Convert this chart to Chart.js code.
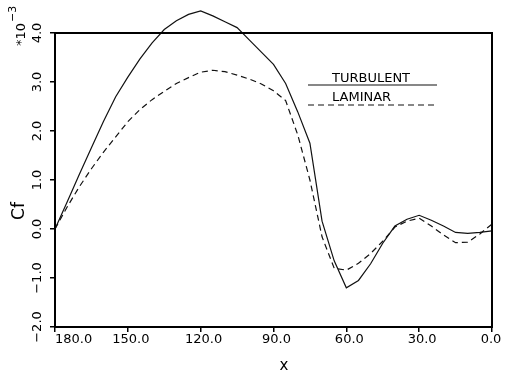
<!DOCTYPE html>
<html>
<head>
<meta charset="utf-8">
<script src="https://cdn.jsdelivr.net/npm/chart.js@4/dist/chart.umd.min.js"></script>
<style>
  html, body { margin: 0; padding: 0; background: #fff; }
  #wrap { width: 507px; height: 372px; position: relative; }
</style>
</head>
<body>
<div id="wrap"><canvas id="c"></canvas></div>
<script>
// ---- data ----
const xValues = [180,175,170,165,160,155,150,145,140,135,130,125,120,115,110,105,100,95,90,85,80,75,70,65,60,55,50,45,40,35,30,25,20,15,10,5,0];
const turbulent = [0.0,0.55,1.11,1.66,2.2,2.7,3.1,3.47,3.8,4.07,4.25,4.38,4.45,4.35,4.23,4.11,3.86,3.61,3.36,2.97,2.39,1.75,0.16,-0.65,-1.2,-1.05,-0.71,-0.29,0.06,0.2,0.28,0.18,0.06,-0.07,-0.09,-0.07,-0.04];
const laminar = [0.0,0.45,0.86,1.23,1.57,1.88,2.19,2.44,2.64,2.81,2.97,3.09,3.2,3.24,3.21,3.14,3.06,2.96,2.82,2.62,1.92,1.0,-0.16,-0.8,-0.84,-0.7,-0.5,-0.25,0.04,0.16,0.22,0.06,-0.12,-0.28,-0.27,-0.1,0.1];
const xTicks = [180,150,120,90,60,30,0];
const yTicks = [-2,-1,0,1,2,3,4];
const seriesNames = ['TURBULENT','LAMINAR'];

const toPts = (ys) => xValues.map((x, i) => ({x: x, y: ys[i]}));

const PAD = {left: 0, right: 15, top: 33, bottom: 0};
const FONT = '"DejaVu Sans", "Liberation Sans", Arial, sans-serif';

const decor = {
  id: 'decor',
  afterDraw(chart) {
    const ctx = chart.ctx;
    const xs = chart.scales.x, ys = chart.scales.y;
    const a = chart.chartArea;
    ctx.save();
    // frame
    ctx.strokeStyle = '#000';
    ctx.lineWidth = 2;
    ctx.strokeRect(a.left, a.top, a.right - a.left, a.bottom - a.top);
    ctx.fillStyle = '#000';
    // x tick labels
    ctx.font = '13px ' + FONT;
    ctx.textBaseline = 'top';
    xTicks.forEach((v, i) => {
      const px = xs.getPixelForValue(v);
      if (i === 0) {
        ctx.textAlign = 'left';
        ctx.fillText(v.toFixed(1), px, a.bottom + 6);
      } else if (i === xTicks.length - 1) {
        ctx.textAlign = 'center';
        ctx.fillText(v.toFixed(1), px - 1, a.bottom + 6);
      } else {
        ctx.textAlign = 'center';
        ctx.fillText(v.toFixed(1), px + 3, a.bottom + 6);
      }
    });
    // y tick labels (rotated)
    yTicks.forEach(v => {
      const py = ys.getPixelForValue(v);
      ctx.save();
      ctx.translate(38, py);
      ctx.rotate(-Math.PI / 2);
      ctx.textAlign = 'center';
      ctx.textBaseline = 'middle';
      ctx.font = '13px ' + FONT;
      ctx.fillText(v.toFixed(1).replace('-', '\u2212'), 0, 0);
      ctx.restore();
    });
    // y title
    ctx.save();
    ctx.translate(20, 211);
    ctx.rotate(-Math.PI / 2);
    ctx.textAlign = 'center';
    ctx.textBaseline = 'middle';
    ctx.font = '17px ' + FONT;
    ctx.fillText('Cf', 0, 0);
    ctx.restore();
    // multiplier *10^-3
    ctx.save();
    ctx.translate(25, 46);
    ctx.rotate(-Math.PI / 2);
    ctx.textAlign = 'left';
    ctx.textBaseline = 'alphabetic';
    ctx.font = '13px ' + FONT;
    ctx.fillText('*10', 0, 0);
    const w = ctx.measureText('*10').width;
    ctx.font = '11px ' + FONT;
    ctx.fillText('\u22123', w + 1, -9);
    ctx.restore();
    // x title
    ctx.textAlign = 'center';
    ctx.textBaseline = 'middle';
    ctx.font = '15px ' + FONT;
    ctx.fillText('x', 284, 366);
    // legend
    ctx.textAlign = 'left';
    ctx.textBaseline = 'alphabetic';
    ctx.font = '13px ' + FONT;
    ctx.fillText(seriesNames[0], 332, 81.5);
    ctx.fillText(seriesNames[1], 332, 101);
    ctx.lineWidth = 1.2;
    ctx.strokeStyle = '#111';
    ctx.beginPath(); ctx.moveTo(308, 85); ctx.lineTo(437, 85); ctx.stroke();
    ctx.setLineDash([6, 4]);
    ctx.beginPath(); ctx.moveTo(308, 105); ctx.lineTo(437, 105); ctx.stroke();
    ctx.restore();
  }
};

new Chart(document.getElementById('c'), {
  type: 'line',
  data: {
    datasets: [
      { label: seriesNames[0], data: toPts(turbulent), borderColor: '#111', borderWidth: 1.2, pointRadius: 0, tension: 0, fill: false, clip: false },
      { label: seriesNames[1], data: toPts(laminar), borderColor: '#111', borderWidth: 1.2, borderDash: [6, 4], pointRadius: 0, tension: 0, fill: false, clip: false }
    ]
  },
  options: {
    responsive: true,
    maintainAspectRatio: false,
    animation: false,
    devicePixelRatio: 1,
    layout: { padding: PAD },
    plugins: { legend: { display: false }, tooltip: { enabled: false } },
    scales: {
      x: {
        type: 'linear', reverse: true, min: 0, max: 180,
        afterBuildTicks: (s) => { s.ticks = xTicks.map(v => ({value: v})); },
        afterFit: (s) => { s.height = 372 - 327; },
        ticks: { display: false },
        grid: { drawOnChartArea: false, drawTicks: true, tickLength: 5, color: '#000', lineWidth: 1.5 },
        border: { display: true, color: '#000', width: 2 }
      },
      y: {
        type: 'linear', min: -2, max: 4,
        afterBuildTicks: (s) => { s.ticks = yTicks.map(v => ({value: v})); },
        afterFit: (s) => { s.width = 55; },
        ticks: { display: false },
        grid: { drawOnChartArea: false, drawTicks: true, tickLength: 5, color: '#000', lineWidth: 1.5 },
        border: { display: true, color: '#000', width: 2 }
      }
    }
  },
  plugins: [decor]
});
</script>
</body>
</html>
